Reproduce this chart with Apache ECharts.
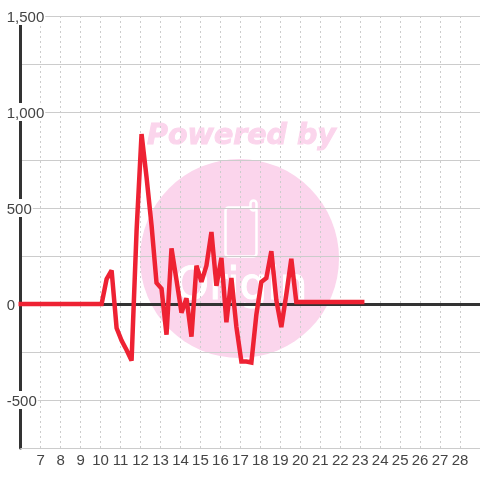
<!DOCTYPE html>
<html><head><meta charset="utf-8">
<style>html,body{margin:0;padding:0;background:#fff}#c{width:480px;height:480px}</style>
<script src="https://cdn.jsdelivr.net/npm/echarts@6/dist/echarts.min.js"></script></head>
<body><div id="c"></div>
<script>
var hours = [6,7,8,9,10.05,10.3,10.55,10.8,11.05,11.3,11.55,11.8,12.05,12.3,12.55,12.8,13.05,13.3,13.55,13.8,14.05,14.3,14.55,14.8,15.05,15.3,15.55,15.8,16.05,16.3,16.55,16.8,17.05,17.3,17.55,17.8,18.05,18.3,18.55,18.8,19.05,19.3,19.55,19.8,20.05,23.1];
var values = [0,0,0,0,0,130,175,-125,-190,-240,-295,380,885,660,410,110,80,-160,290,125,-45,30,-170,200,115,200,375,95,240,-95,135,-120,-300,-300,-305,-55,115,135,275,20,-120,50,235,10,10,10];
var yTicksShown = [-500,0,500,1000,1500];
var watermarkTop = 'Powered by';
var watermarkBottom = 'Origin';

var chart = echarts.init(document.getElementById('c'), null, {renderer:'canvas'});
var pink = '#fbd5ec';
chart.setOption({
  animation:false,
  backgroundColor:'#fff',
  grid:{left:20.75,right:0,top:16,bottom:32,containLabel:false},
  graphic:[
    {type:'circle',z:-10,silent:true,shape:{cx:239.5,cy:258.5,r:99.5},style:{fill:pink}},
    {type:'text',z:-10,silent:true,x:241.5,y:137,style:{text:watermarkTop,fill:pink,stroke:pink,lineWidth:1,font:'italic bold 28.5px "DejaVu Sans"',textAlign:'center',textVerticalAlign:'middle'}},
    {type:'rect',z:-9,silent:true,shape:{x:225.5,y:207.5,width:31,height:49,r:3},style:{fill:'none',stroke:'#fff',lineWidth:2.5}},
    {type:'rect',z:-9,silent:true,shape:{x:250.5,y:200.5,width:6,height:10,r:3},style:{fill:pink,stroke:'#fff',lineWidth:2.5}},
    {type:'text',z:-9,silent:true,x:241,y:288,style:{text:watermarkBottom,fill:'#fff',stroke:'#fff',lineWidth:1,font:'44px "DejaVu Sans"',textAlign:'center',textVerticalAlign:'middle'}}
  ],
  xAxis:[{
    type:'value',min:6,max:29,interval:1,
    axisLine:{show:true,onZero:false,lineStyle:{color:'#ccc',width:1}},
    axisTick:{show:false},
    axisLabel:{show:true,showMinLabel:false,showMaxLabel:false,color:'#444',fontFamily:'Liberation Sans',fontSize:15,margin:5},
    splitLine:{show:true,showMinLine:false,showMaxLine:false,lineStyle:{color:'#ccc',type:[2,3],width:1}}
  },{
    type:'value',min:6,max:29,interval:1,position:'bottom',
    axisLine:{show:true,onZero:true,lineStyle:{color:'#333',width:3}},
    axisTick:{show:false},axisLabel:{show:false},splitLine:{show:false}
  }],
  yAxis:{
    type:'value',min:-750,max:1500,interval:250,offset:1,
    axisLine:{show:true,onZero:false,lineStyle:{color:'#333',width:3}},
    axisTick:{show:false},
    axisLabel:{
      align:'left',margin:13,backgroundColor:'#fff',
      rich:{a:{color:'#444',fontFamily:'Liberation Sans',fontSize:15,padding:[3,1,0,0]}},
      formatter:function(v){return yTicksShown.indexOf(v)>=0?'{a|'+(v<0?'-':'')+Math.abs(v).toLocaleString('en-US')+'}':'';}
    },
    splitLine:{show:true,lineStyle:{color:'#ccc',width:1}}
  },
  series:[{
    type:'line',xAxisIndex:0,data:hours.map(function(h,i){return [h,values[i]];}),
    showSymbol:false,symbol:'none',smooth:false,clip:false,
    lineStyle:{color:'#ee2233',width:4.5,join:'miter',cap:'square',miterLimit:2}
  }]
});
</script></body></html>
